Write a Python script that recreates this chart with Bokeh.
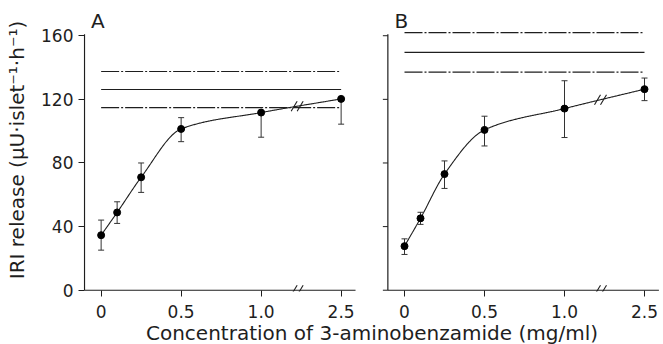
import numpy as np
from bokeh.plotting import figure
from bokeh.models import FixedTicker, Label, Range1d
from bokeh.embed import file_html
from bokeh.resources import INLINE

# ---------------- data ----------------
tick_pos = [0, 0.5, 1.0, 1.5]          # positions on the broken x axis
tick_labels = ["0", "0.5", "1.0", "2.5"]
conc = [0, 0.1, 0.25, 0.5, 1.0, 2.5]   # mg/ml
conc_pos = [0, 0.1, 0.25, 0.5, 1.0, 1.5]  # where each concentration sits on the broken axis
break_pos = 1.225
y_ticks = [0, 40, 80, 120, 160]

a_mean = [34.6, 48.9, 71.0, 101.4, 111.7, 120.3]
a_low = [25.2, 42.0, 61.5, 93.4, 96.2, 104.4]
a_high = [44.1, 55.6, 80.0, 108.5, 111.7, 120.3]
a_ctrl = [114.8, 126.2, 137.5]   # control: mean - SE, mean, mean + SE

b_mean = [27.7, 45.2, 73.0, 100.8, 114.2, 126.4]
b_low = [22.5, 41.4, 64.0, 90.7, 96.0, 119.2]
b_high = [32.3, 49.0, 81.3, 109.4, 131.7, 133.4]
b_ctrl = [137.1, 149.5, 161.9]

panel_names = ["A", "B"]

# ---------------- layout constants ----------------
FONT = "DejaVu Sans"
INK = "#1e1e1e"
OFF_B = 1.896          # x offset of panel B
PX_X = 1 / 160.0
AX_X = -0.104          # where a panel's y axis sits (panel units)
X_START = AX_X - PX_X
FRAME_W = 577
PX_Y = 1 / 1.5906
Y0 = -0.8
FRAME_H = 283
Y1 = Y0 + FRAME_H * PX_Y
PANEL_END = 1.59
AXIS_TOP = 161.0


def pchip(x, y, xs):
    x = np.asarray(x, float)
    y = np.asarray(y, float)
    h = np.diff(x)
    d = np.diff(y) / h
    n = len(x)
    m = np.zeros(n)
    for k in range(1, n - 1):
        if d[k - 1] * d[k] > 0:
            w1 = 2 * h[k] + h[k - 1]
            w2 = h[k] + 2 * h[k - 1]
            m[k] = (w1 + w2) / (w1 / d[k - 1] + w2 / d[k])
    m[0] = d[0]
    m[-1] = d[-1]
    idx = np.clip(np.searchsorted(x, xs) - 1, 0, n - 2)
    t = (xs - x[idx]) / h[idx]
    h00 = 2 * t**3 - 3 * t**2 + 1
    h10 = t**3 - 2 * t**2 + t
    h01 = -2 * t**3 + 3 * t**2
    h11 = t**3 - t**2
    return (h00 * y[idx] + h10 * h[idx] * m[idx]
            + h01 * y[idx + 1] + h11 * h[idx] * m[idx + 1])


p = figure(frame_width=FRAME_W, frame_height=FRAME_H,
           x_range=Range1d(X_START, X_START + FRAME_W * PX_X),
           y_range=Range1d(Y0, Y1),
           output_backend="svg", toolbar_location=None,
           min_border_left=83, min_border_right=2,
           min_border_top=8, min_border_bottom=50)
p.outline_line_color = None
p.grid.visible = False
p.background_fill_color = "white"
p.border_fill_color = "white"

# y axis (panel A) - ticks and labels from Bokeh, line drawn separately
yax = p.yaxis[0]
yax.ticker = FixedTicker(ticks=y_ticks)
yax.axis_label = "IRI release (μU·islet⁻¹·h⁻¹)"
yax.axis_label_text_font = FONT
yax.axis_label_text_font_size = "20px"
yax.axis_label_text_font_style = "normal"
yax.axis_label_text_color = INK
yax.axis_label_standoff = 9
yax.major_label_text_font = FONT
yax.major_label_text_font_size = "17px"
yax.major_label_text_color = INK
yax.major_label_standoff = 5
yax.major_tick_in = 1
yax.major_tick_out = 5
yax.minor_tick_line_color = None
yax.axis_line_color = None
yax.major_tick_line_color = INK

# x axis (both panels share one axis object; line drawn per panel)
xticks = [round(t + off, 4) for off in (0, OFF_B) for t in tick_pos]
xlabels = {round(t + off, 4): lab for off in (0, OFF_B)
           for t, lab in zip(tick_pos, tick_labels)}
xax = p.xaxis[0]
xax.ticker = FixedTicker(ticks=xticks)
xax.major_label_overrides = xlabels
xax.major_label_text_font = FONT
xax.major_label_text_font_size = "17px"
xax.major_label_text_color = INK
xax.major_label_standoff = 8
xax.major_tick_in = 1
xax.major_tick_out = 5
xax.minor_tick_line_color = None
xax.axis_line_color = None
xax.major_tick_line_color = INK
xax.axis_label = "Concentration of 3-aminobenzamide (mg/ml)"
xax.axis_label_text_font = FONT
xax.axis_label_text_font_size = "20px"
xax.axis_label_text_font_style = "normal"
xax.axis_label_text_color = INK
xax.axis_label_standoff = 0

panels = [
    (0.0, a_mean, a_low, a_high, a_ctrl),
    (OFF_B, b_mean, b_low, b_high, b_ctrl),
]

for name, (off, mean, low, high, ctrl) in zip(panel_names, panels):
    xp = [c + off for c in conc_pos]
    xa = AX_X + off
    # axis lines of the panel
    p.segment(x0=[xa], y0=[0], x1=[PANEL_END + off], y1=[0],
              line_color=INK, line_width=1.2)
    p.segment(x0=[xa], y0=[0], x1=[xa], y1=[AXIS_TOP], line_color=INK, line_width=1.2)
    if off > 0:
        # y ticks of panel B
        p.segment(x0=[xa - 5 * PX_X] * len(y_ticks), y0=y_ticks,
                  x1=[xa] * len(y_ticks), y1=y_ticks, line_color=INK, line_width=1)
    # control lines (mean ± SE)
    x_lo = tick_pos[0] + off
    x_hi = tick_pos[-1] + off
    p.segment(x0=[x_lo, x_lo], y0=[ctrl[0], ctrl[2]], x1=[x_hi, x_hi],
              y1=[ctrl[0], ctrl[2]], line_color=INK, line_width=1.2,
              line_dash="18 2 2 2")
    p.segment(x0=[x_lo], y0=[ctrl[1]], x1=[x_hi], y1=[ctrl[1]],
              line_color=INK, line_width=1.2)
    # smooth curve through the means
    xs = np.linspace(conc_pos[0], conc_pos[-1], 300)
    ys = pchip(conc_pos, mean, xs)
    p.line(xs + off, ys, line_color=INK, line_width=1.1)
    # error bars
    p.segment(x0=xp, y0=low, x1=xp, y1=high, line_color="#333333", line_width=1)
    p.scatter(xp, low, marker="dash", size=6, line_color="#333333", line_width=1)
    p.scatter(xp, high, marker="dash", size=6, line_color="#333333", line_width=1)
    p.scatter(xp, mean, marker="circle", size=7, fill_color="black", line_color="black")
    # axis breaks (//) on the x axis and on the curve
    yb_curve = float(pchip(conc_pos, mean, np.array([break_pos]))[0])
    bx0, by0, bx1, by1 = [], [], [], []
    for yc in (0.0, yb_curve):
        for dx in (-3, 3):
            cx = break_pos + off + dx * PX_X
            bx0.append(cx - 3 * PX_X)
            by0.append(yc - 5 * PX_Y)
            bx1.append(cx + 3 * PX_X)
            by1.append(yc + 5 * PX_Y)
    p.segment(x0=bx0, y0=by0, x1=bx1, y1=by1, line_color=INK, line_width=1.1)
    # panel letter
    p.add_layout(Label(x=-0.02 + off, y=169.0, text=name,
                       text_font=FONT, text_font_size="20px", text_color=INK,
                       text_align="center", text_baseline="middle"))

open("out.html", "w").write(file_html(p, INLINE))
